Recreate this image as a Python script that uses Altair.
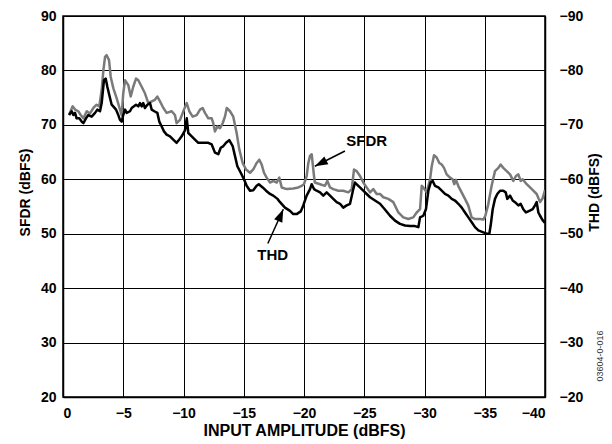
import altair as alt
import pandas as pd

# ---------------- data ----------------
sfdr_x = [-0.5, -0.8, -1.0, -1.27, -1.47, -1.69, -1.97, -2.24, -2.52, -2.79, -3.01, -3.21, -3.35, -3.49,
          -3.62, -3.82, -3.96, -4.18, -4.45, -4.73, -4.87, -5.0, -5.15, -5.42, -5.62, -5.83, -6.06, -6.25,
          -6.53, -6.8, -7.08, -7.36, -7.63, -7.83, -8.05, -8.33, -8.6, -9.02, -9.29, -9.43, -9.71, -10.04,
          -10.27, -10.48, -10.76, -11.1, -11.37, -11.59, -11.78, -12.06, -12.34, -12.47, -12.61, -12.81,
          -13.03, -13.25, -13.44, -13.59, -13.86, -14.13, -14.41, -14.63, -14.91, -15.19, -15.52, -15.79,
          -16.07, -16.29, -16.49, -16.68, -16.9, -17.18, -17.45, -17.73, -17.95, -18.15, -18.56, -19.11,
          -19.53, -19.81, -20.0, -20.22, -20.36, -20.5, -20.64, -20.83, -20.9, -21.33, -21.74, -21.94,
          -22.16, -22.43, -22.85, -23.26, -23.68, -23.96, -24.15, -24.37, -24.65, -24.92, -25.2, -25.48,
          -25.75, -26.03, -26.31, -26.58, -27.0, -27.41, -27.83, -28.24, -28.66, -29.07, -29.35, -29.63,
          -29.77, -29.9, -30.18, -30.46, -30.6, -30.79, -31.01, -31.23, -31.43, -31.62, -31.84, -32.12,
          -32.34, -32.47, -32.61, -32.8, -33.08, -33.36, -33.63, -33.91, -34.19, -34.61, -34.88, -35.05,
          -35.29, -35.57, -35.85, -36.13, -36.32, -36.54, -36.82, -37.1, -37.37, -37.59, -37.79, -37.98,
          -38.15, -38.48, -38.76, -39.03, -39.31, -39.59, -39.8, -40.0]
sfdr_y = [71.8, 73.4, 72.8, 72.5, 71.8, 71.2, 72.5, 72.1, 73.1, 73.7, 73.4, 76.4, 80.0, 82.5,
          82.8, 81.9, 78.8, 76.7, 74.9, 72.8, 71.8, 75.8, 78.2, 77.3, 75.2, 77.0, 78.5, 78.2,
          77.0, 75.8, 74.0, 74.3, 74.6, 75.2, 74.3, 73.1, 72.2, 72.5, 71.8, 70.3, 70.9, 72.8,
          74.0, 72.5, 71.5, 71.8, 72.8, 73.1, 72.2, 71.2, 71.2, 70.3, 68.8, 69.7,
          69.4, 70.3, 71.5, 73.1, 72.5, 71.5, 68.5, 65.5, 63.0, 61.8, 61.2, 61.8,
          63.0, 63.6, 62.7, 61.2, 60.3, 59.4, 59.7, 59.4, 60.3, 58.5, 58.2, 58.3,
          58.5, 58.8, 59.1, 60.6, 63.0, 64.3, 64.6, 60.6, 59.4, 59.1, 58.8, 59.7,
          58.5, 58.2, 57.9, 57.9, 57.6, 58.2, 61.8, 61.5, 60.6, 59.4, 58.5, 57.6,
          58.2, 57.3, 57.3, 56.7, 56.4, 55.8, 53.9, 53.0, 52.7, 53.0, 53.9, 54.5,
          58.8, 58.5, 57.6, 60.0, 62.4, 64.4, 64.0, 63.0, 62.7, 62.1, 60.9, 60.3,
          60.0, 59.1, 59.9, 58.8, 57.6, 56.4, 55.2, 53.0, 52.7, 52.7, 52.6, 53.3,
          55.4, 58.8, 61.5, 62.1, 62.7, 62.1, 61.5, 60.9, 59.7, 60.6, 60.9, 59.7,
          60.0, 59.1, 58.5, 57.9, 57.3, 55.8, 56.5, 58.0]

thd_x = [-0.5, -0.72, -0.86, -1.0, -1.13, -1.35, -1.55, -1.69, -1.91, -2.1, -2.38, -2.66, -2.85, -3.07,
         -3.21, -3.4, -3.54, -3.68, -3.84, -4.04, -4.17, -4.4, -4.59, -4.73, -4.87, -5.0, -5.15, -5.29,
         -5.56, -5.7, -5.89, -6.06, -6.25, -6.39, -6.53, -6.66, -6.8, -7.0, -7.22, -7.36, -7.58, -7.83,
         -7.99, -8.19, -8.38, -8.6, -8.88, -9.15, -9.43, -9.65, -9.85, -10.12, -10.27, -10.4, -10.68,
         -10.95, -11.23, -11.65, -12.06, -12.34, -12.61, -12.89, -13.09, -13.31, -13.53, -13.8, -14.08,
         -14.27, -14.47, -14.75, -15.02, -15.24, -15.52, -15.79, -16.07, -16.25, -16.57, -16.85, -17.18,
         -17.45, -17.8, -18.01, -18.42, -18.84, -19.11, -19.39, -19.73, -19.94, -20.22, -20.5, -20.64,
         -20.83, -21.05, -21.33, -21.6, -21.88, -22.16, -22.43, -22.71, -22.99, -23.26, -23.54, -23.82,
         -24.09, -24.23, -24.51, -24.92, -25.2, -25.48, -25.89, -26.31, -26.7, -27.14, -27.55, -27.97,
         -28.38, -28.8, -29.21, -29.49, -29.63, -29.9, -30.12, -30.32, -30.51, -30.68, -30.87, -31.15,
         -31.43, -31.7, -31.98, -32.26, -32.53, -32.81, -33.09, -33.36, -33.64, -33.92, -34.19, -34.47,
         -34.83, -35.16, -35.38, -35.49, -35.66, -35.85, -36.04, -36.27, -36.54, -36.74, -36.87, -37.1,
         -37.32, -37.51, -37.79, -37.98, -38.2, -38.42, -38.7, -38.98, -39.17, -39.31, -39.45, -39.59,
         -39.8, -40.0]
thd_y = [-71.8, -72.5, -71.8, -72.2, -71.2, -71.2, -70.6, -70.3, -71.2, -71.8, -71.5, -72.2, -72.8, -72.5,
         -74.0, -78.2, -78.5, -77.0, -75.5, -73.7, -73.4, -72.8, -71.8, -70.9, -70.6, -71.8, -72.8, -72.2,
         -72.5, -73.1, -73.4, -73.7, -73.4, -74.0, -73.4, -74.0, -73.1, -73.7, -74.0, -72.8, -72.5, -72.2,
         -70.6, -69.7, -68.8, -68.2, -67.9, -67.3, -66.7, -67.3, -67.9, -69.0, -71.2, -68.5, -67.9,
         -67.3, -66.7, -66.7, -66.7, -66.4, -64.9, -64.6, -65.8, -66.1, -66.7, -67.2, -66.1,
         -64.3, -62.4, -61.2, -60.0, -58.8, -57.9, -58.0, -58.8, -59.1, -58.5, -57.9, -57.3,
         -57.0, -56.4, -55.8, -54.8, -54.2, -53.6, -53.6, -54.1, -55.2, -57.0, -58.2, -59.1,
         -58.2, -57.9, -57.6, -57.0, -57.6, -57.0, -56.4, -55.8, -55.5, -54.8, -55.2, -55.5,
         -58.2, -59.4, -58.8, -57.9, -57.3, -56.7, -56.1, -55.5, -54.5, -53.3, -52.4, -51.8,
         -51.5, -51.4, -51.4, -51.2, -53.0, -53.3, -54.5, -57.9, -59.4, -59.7, -58.8, -58.5,
         -57.9, -57.3, -57.0, -56.4, -56.1, -55.5, -54.8, -53.9, -53.0, -52.1, -51.2, -50.6,
         -50.3, -50.0, -50.0, -51.5, -54.5, -56.4, -57.3, -57.9, -57.9, -57.6, -56.4, -57.0,
         -56.1, -55.8, -55.2, -55.5, -54.5, -53.9, -54.2, -54.5, -55.2, -55.8, -53.9, -53.3,
         -52.5, -52.0]

x_ticks = [0, -5, -10, -15, -20, -25, -30, -35, -40]
sfdr_ticks = [20, 30, 40, 50, 60, 70, 80, 90]
thd_ticks = [-20, -30, -40, -50, -60, -70, -80, -90]

# annotations (left-axis units)
ann_label = ["SFDR", "THD"]
ann_x = [-25.2, -17.4]
ann_y = [67.0, 46.0]
arrow_tail_x = [-23.4, -17.0]
arrow_tail_y = [65.2, 48.2]
arrow_head_x = [-20.9, -18.28]
arrow_head_y = [62.4, 54.5]
arrow_angle = [243, 23]

FONT = "Liberation Sans"

sfdr_df = pd.DataFrame({"x": sfdr_x, "y": sfdr_y})
thd_df = pd.DataFrame({"x": thd_x, "y": thd_y})
ann_df = pd.DataFrame({"label": ann_label, "x": ann_x, "y": ann_y})
arr_df = pd.DataFrame({"x": arrow_tail_x, "y": arrow_tail_y,
                       "x2": arrow_head_x, "y2": arrow_head_y, "angle": arrow_angle})

x_scale = alt.Scale(domain=[0, -40], nice=False)
x_axis = alt.Axis(values=x_ticks, title="INPUT AMPLITUDE (dBFS)", grid=True, format="d",
                  labelPadding=9, titlePadding=2, titleFontSize=16)
left_scale = alt.Scale(domain=[20, 90], nice=False)


def X():
    return alt.X("x:Q", scale=x_scale, axis=x_axis)


sfdr_line = alt.Chart(sfdr_df).mark_line(color="#7a7a7a", strokeWidth=2.5, strokeJoin="round", clip=True).encode(
    x=X(),
    y=alt.Y("y:Q", scale=left_scale,
            axis=alt.Axis(values=sfdr_ticks, title="SFDR (dBFS)", grid=True, orient="left",
                          labelPadding=7, titleX=-38, titleY=176, titleAngle=270,
                          titleAlign="center", titleBaseline="middle")),
)

thd_line = alt.Chart(thd_df).mark_line(color="black", strokeWidth=2.5, strokeJoin="round", clip=True).encode(
    x=X(),
    y=alt.Y("y:Q", scale=alt.Scale(domain=[-20, -90], nice=False),
            axis=alt.Axis(values=thd_ticks, title="THD (dBFS)", grid=False, orient="right",
                          labelPadding=14, titleX=49, titleY=176, titleAngle=270,
                          titleAlign="center", titleBaseline="middle", format="d")),
)

arrow_lines = alt.Chart(arr_df).mark_rule(color="black", strokeWidth=1.5).encode(
    x=X(),
    y=alt.Y("y:Q", scale=left_scale, axis=None),
    x2="x2:Q",
    y2="y2:Q",
)

arrow_heads = alt.Chart(arr_df).mark_point(
    shape="M0,0L0.55,1.6L-0.55,1.6Z", filled=True, color="black", fill="black", opacity=1, size=260
).encode(
    x=alt.X("x2:Q", scale=x_scale, axis=x_axis),
    y=alt.Y("y2:Q", scale=left_scale, axis=None),
    angle=alt.Angle("angle:Q", scale=None),
)

ann_text = alt.Chart(ann_df).mark_text(font=FONT, fontSize=15, fontWeight="bold", color="black").encode(
    x=X(),
    y=alt.Y("y:Q", scale=left_scale, axis=None),
    text="label:N",
)

code_text = alt.Chart(pd.DataFrame({"t": ["03604-0-016"]})).mark_text(
    font=FONT, fontSize=9, color="#333333", angle=270
).encode(x=alt.value(537), y=alt.value(340), text="t:N")

chart = alt.layer(sfdr_line, thd_line, arrow_lines, arrow_heads, ann_text, code_text).resolve_scale(
    y="independent"
).properties(
    width=482, height=381,
    autosize=alt.AutoSizeParams(type="none"),
    padding={"left": 55, "top": 8, "right": 59, "bottom": 43},
).configure_view(
    stroke="black", strokeWidth=1.5
).configure_axis(
    labelFont=FONT, labelFontSize=14, labelFontWeight="bold", labelColor="black",
    titleFont=FONT, titleFontSize=14, titleFontWeight="bold", titleColor="black",
    domainColor="black", domainWidth=1.5, ticks=False,
    gridColor="black", gridWidth=1, gridOpacity=1,
)

chart.save("out.html", embed_options={"renderer": "svg", "actions": False})
